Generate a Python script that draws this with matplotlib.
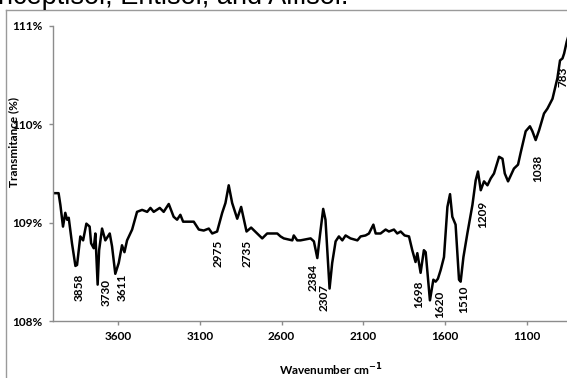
import matplotlib.pyplot as plt
from matplotlib.lines import Line2D

# FTIR spectrum (wavenumber cm-1, transmittance %)
wavenumber = [4000, 3964, 3953, 3937, 3923, 3912, 3902, 3882, 3861, 3851,
              3831, 3814, 3794, 3774, 3765, 3749, 3739, 3725, 3716, 3698,
              3678, 3651, 3637, 3617, 3596, 3576, 3561, 3545, 3514, 3484,
              3453, 3422, 3402, 3382, 3345, 3321, 3290, 3260, 3239, 3219,
              3202, 3177, 3137, 3106, 3076, 3045, 3024, 2994, 2963, 2943,
              2923, 2902, 2871, 2847, 2814, 2786, 2749, 2718, 2688, 2626,
              2606, 2586, 2534, 2525, 2504, 2484, 2422, 2402, 2381, 2365,
              2345, 2331, 2306, 2290, 2269, 2249, 2228, 2208, 2178, 2136,
              2116, 2086, 2065, 2038, 2024, 1994, 1963, 1943, 1912, 1892,
              1871, 1847, 1820, 1800, 1780, 1769, 1749, 1729, 1718, 1692,
              1671, 1657, 1643, 1626, 1606, 1585, 1569, 1555, 1535, 1514,
              1504, 1487, 1463, 1432, 1412, 1398, 1381, 1361, 1340, 1320,
              1300, 1269, 1248, 1234, 1214, 1178, 1153, 1137, 1106, 1080,
              1065, 1045, 1024, 994, 973, 942, 912, 896, 881, 871,
              855, 830]
transmittance = [109.30, 109.30, 109.18, 108.96, 109.10, 109.03, 109.05, 108.79, 108.56, 108.57,
                 108.86, 108.82, 108.99, 108.96, 108.79, 108.74, 108.89, 108.37, 108.72, 108.94,
                 108.82, 108.89, 108.76, 108.48, 108.59, 108.77, 108.70, 108.82, 108.93, 109.11,
                 109.13, 109.11, 109.15, 109.11, 109.15, 109.11, 109.19, 109.06, 109.03, 109.08,
                 109.01, 109.01, 109.01, 108.93, 108.92, 108.94, 108.89, 108.91, 109.10, 109.20,
                 109.38, 109.20, 109.04, 109.16, 108.91, 108.95, 108.89, 108.84, 108.89, 108.89,
                 108.86, 108.84, 108.82, 108.87, 108.82, 108.82, 108.84, 108.81, 108.64, 108.87,
                 109.14, 109.03, 108.33, 108.59, 108.81, 108.86, 108.82, 108.87, 108.84, 108.82,
                 108.86, 108.87, 108.89, 108.98, 108.89, 108.89, 108.93, 108.91, 108.93, 108.89,
                 108.91, 108.87, 108.86, 108.72, 108.60, 108.69, 108.49, 108.72, 108.70, 108.21,
                 108.42, 108.40, 108.43, 108.52, 108.65, 109.16, 109.29, 109.06, 108.98, 108.42,
                 108.40, 108.65, 108.89, 109.18, 109.43, 109.52, 109.33, 109.42, 109.38, 109.45,
                 109.50, 109.67, 109.65, 109.50, 109.42, 109.55, 109.59, 109.71, 109.93, 109.98,
                 109.93, 109.84, 109.94, 110.11, 110.16, 110.26, 110.47, 110.65, 110.67, 110.72,
                 110.84, 110.98]

peak_labels = ['3858', '3730', '3611', '2975', '2735', '2384', '2307',
               '1698', '1620', '1510', '1209', '1038', '783']
label_x = [3841, 3672, 3576, 2986, 2810, 2404, 2341, 1759, 1631, 1487, 1371, 1034, 875]
label_y = [108.34, 108.29, 108.34, 108.69, 108.69, 108.44, 108.24,
           108.27, 108.17, 108.22, 109.08, 109.55, 110.48]

x_ticks = [3600, 3100, 2600, 2100, 1600, 1100]
y_ticks = [108, 109, 110, 111]

fnt = 'Lato'
grey = '#8c8c8c'
fs = 8.5

fig = plt.figure(figsize=(5.67, 3.78), dpi=100)

# caption text cut off by the crop, and the chart frame
fig.text(-0.004, 1 - 4.5 / 378, 'nceptisol, Entisol, and Alfisol.', fontsize=19.5,
         family='Liberation Sans', va='baseline', ha='left', color='black')
fig.add_artist(Line2D([5.7 / 567, 5.7 / 567], [0, 1 - 9.7 / 378], color='#9a9a9a', lw=1.0))
fig.add_artist(Line2D([5.7 / 567, 1], [1 - 9.7 / 378, 1 - 9.7 / 378], color='#9a9a9a', lw=1.0))

ax = fig.add_axes([52.7 / 567, 57 / 378, (608.4 - 52.7) / 567, 295 / 378])
ax.plot(wavenumber, transmittance, color='black', lw=1.8)
ax.set_xlim(4000, 600)
ax.set_ylim(108, 111)

for txt, x, y in zip(peak_labels, label_x, label_y):
    ax.text(x, y, txt, rotation=90, ha='center', va='center',
            fontsize=fs, fontweight='bold', family=fnt)

ax.set_xticks(x_ticks)
ax.set_xticklabels([str(t) for t in x_ticks])
ax.set_yticks(y_ticks)
ax.set_yticklabels(['%d%%' % t for t in y_ticks])
for lab in ax.get_xticklabels() + ax.get_yticklabels():
    lab.set_fontsize(fs)
    lab.set_fontweight('bold')
    lab.set_family(fnt)
ax.tick_params(axis='both', direction='out', length=3, width=1, color=grey, pad=4)

for side in ['top', 'right']:
    ax.spines[side].set_visible(False)
for side in ['left', 'bottom']:
    ax.spines[side].set_color(grey)
    ax.spines[side].set_linewidth(1)

ax.set_ylabel('Transmitance (%)', fontsize=fs, fontweight='bold', family=fnt)
ax.yaxis.set_label_coords(-0.0606, 0.608)
ax.set_xlabel('Wavenumber cm$^{\\mathbf{-1}}$', fontsize=fs, fontweight='bold', family=fnt)
ax.xaxis.set_label_coords(0.5, -0.137)

fig.savefig('out.png', dpi=100)
